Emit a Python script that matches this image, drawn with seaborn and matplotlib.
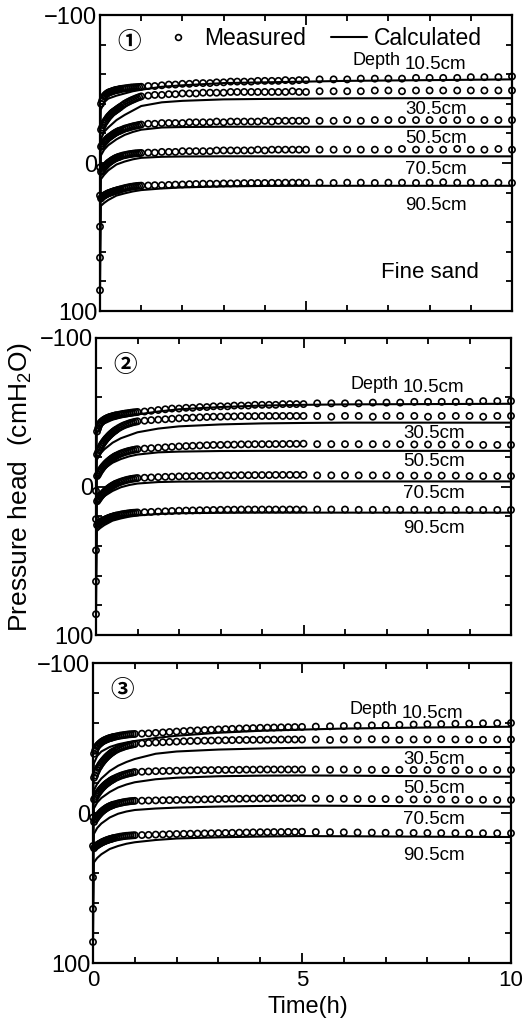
import matplotlib
matplotlib.use("Agg")
import matplotlib.pyplot as plt
from matplotlib.lines import Line2D
import pandas as pd
import seaborn as sns

# ---------------------------------------------------------------- data
# measurement times (h): logged very densely during the first hour, then sparser
T_EARLY = [0.0, 0.025, 0.05, 0.075, 0.10, 0.125, 0.15, 0.175, 0.20, 0.225, 0.25,
           0.275, 0.30, 0.325, 0.35, 0.375, 0.40, 0.425, 0.45, 0.475, 0.50,
           0.55, 0.60, 0.65, 0.70, 0.75, 0.80, 0.85, 0.90, 0.95, 1.00]
T_MID = [1.17, 1.33, 1.50, 1.67, 1.83, 2.00, 2.17, 2.33, 2.50, 2.67, 2.83, 3.00,
         3.17, 3.33, 3.50, 3.67, 3.83, 4.00, 4.17, 4.33, 4.50, 4.67, 4.83, 5.00]
T_LATE = [5.33, 5.67, 6.00, 6.33, 6.67, 7.00, 7.33, 7.67, 8.00, 8.33, 8.67,
          9.00, 9.33, 9.67, 10.00]
TIME_MEAS = T_EARLY + T_MID + T_LATE

# times (h) of the simulated curves
TIME_CALC = [0.0, 0.02, 0.1, 0.2, 0.4, 0.6, 0.8, 1.0, 1.5, 2.0, 3.0, 4.0, 5.0, 6.0, 8.0, 10.0]

DEPTHS = ["10.5cm", "30.5cm", "50.5cm", "70.5cm", "90.5cm"]

# ---- case 1 (fine sand), measured pressure head (cmH2O)
m1_105 = [3, -40, -42, -43.7, -45, -45.8, -46.5, -47, -47.5, -47.8, -48, -48.3, -48.5, -48.8, -49, -49.2, -49.4, -49.5, -49.6, -49.8, -50,
          -50.2, -50.4, -50.6, -50.8, -51, -51.1, -51.2, -51.3, -51.4, -51.5,
          -52, -52, -52.5, -53, -53, -53.5, -53.5, -54, -54, -54, -54.5, -54.5, -55, -55, -55, -55, -55.5, -55.5, -55.5, -55.5, -56, -55.5, -56, -56,
          -56.5, -56.5, -56.5, -57, -57, -57, -57, -57.5, -57.5, -57.5, -57.5, -58, -58, -58, -58.5]
m1_305 = [22, -22.5, -24, -25.5, -27, -28, -29, -30, -31, -31.8, -32.5, -33.3, -34, -34.5, -35, -35.5, -36, -36.5, -37, -37.5, -38,
          -39, -40, -40.8, -41.5, -42.2, -42.8, -43.4, -44, -44.5, -45,
          -45.5, -46, -46, -46.5, -46.5, -47, -47, -47, -47.5, -47.5, -47.5, -47.5, -48, -48, -48, -48, -48, -48, -48, -48, -48, -48.5, -48, -48,
          -48.5, -48.5, -48.5, -48.5, -49, -49, -48.5, -49, -49, -49, -49, -49, -49, -49, -49]
m1_505 = [43, -11, -12, -13, -14, -14.8, -15.5, -16.3, -17, -17.5, -18, -18.5, -19, -19.5, -20, -20.4, -20.8, -21.2, -21.5, -21.8, -22,
          -22.6, -23.2, -23.6, -24, -24.4, -24.8, -25.1, -25.4, -25.7, -26,
          -26.5, -26.5, -27, -27, -27, -27, -27.5, -27.5, -27.5, -27.5, -28, -27.5, -28, -28, -28, -28, -28, -28.5, -28, -28.5, -28.5, -28.5, -28.5, -28.5,
          -28.5, -28.5, -29, -28.5, -29, -29, -29, -29, -29, -29, -29, -29, -29, -29, -29]
m1_705 = [64, 6, 5, 4, 3, 2.2, 1.5, 0.7, 0, -0.5, -1, -1.5, -2, -2.4, -2.8, -3.2, -3.5, -3.8, -4, -4.3, -4.5,
          -5, -5.3, -5.6, -5.9, -6.1, -6.3, -6.5, -6.6, -6.7, -6.8,
          -7, -7, -7.5, -7.5, -7.5, -8, -8, -8, -8, -8, -8.5, -8.5, -8.5, -8.5, -8.5, -8.5, -9, -8.5, -9, -9, -9, -9, -9, -9,
          -9, -9, -9, -9, -9, -9, -9.5, -9, -9, -9, -9.5, -9, -9, -9.5, -9]
m1_905 = [86, 24, 23, 22.5, 22, 21.6, 21.2, 20.8, 20.5, 20.2, 20, 19.7, 19.5, 19.2, 19, 18.8, 18.6, 18.4, 18.2, 18, 17.8,
          17.4, 17, 16.7, 16.4, 16.1, 15.9, 15.7, 15.5, 15.4, 15.3,
          15.2, 15, 15, 14.8, 14.6, 14.5, 14.3, 14.2, 14, 14, 14, 13.8, 13.8, 13.7, 13.6, 13.5, 13.5, 13.5, 13.4, 13.4, 13.3, 13.3, 13.3, 13.3,
          13.3, 13.5, 13.3, 13.3, 13.5, 13.3, 13.3, 13.5, 13.3, 13, 13.3, 13.3, 13.5, 13.3, 13.5]

# ---- case 1, calculated
c1_105 = [3, -36, -41, -43.5, -45.5, -47, -48.5, -49.5, -51.5, -52.5, -54, -54.5, -55, -55.5, -56, -56.5]
c1_305 = [22, -16, -21, -24, -29, -32.5, -35.5, -38.5, -41, -42, -43, -43.3, -43.5, -43.7, -43.8, -43.8]
c1_505 = [43, -5, -9, -12, -16, -19, -21, -22.5, -24, -24.3, -24.5, -24.5, -24.5, -24.5, -24.5, -24.5]
c1_705 = [64, 11, 8, 5, 1, -1, -2.5, -3.5, -4.2, -4.4, -4.5, -4.5, -4.5, -4.5, -4.5, -4.5]
c1_905 = [86, 29, 27, 25, 22, 20.5, 19.2, 18.3, 17.2, 16.5, 15.8, 15.5, 15.4, 15.4, 15.4, 15.4]

# ---- case 2, measured
m2_105 = [3, -37, -39, -41, -42.5, -43.3, -44, -44.5, -45, -45.4, -45.8, -46.1, -46.4, -46.7, -46.9, -47.1, -47.3, -47.5, -47.7, -47.9, -48,
          -48.3, -48.6, -48.9, -49.1, -49.3, -49.5, -49.7, -49.9, -50, -50.2,
          -50.5, -51, -51.5, -52, -52.5, -52.5, -53, -53, -53.5, -53.5, -54, -54, -54, -54.5, -54.5, -54.5, -55, -55, -55, -55, -55.5, -55.5, -55.5, -55.5,
          -56, -56, -56, -56, -56.5, -56.5, -56.5, -57, -57, -57, -57, -57, -57.5, -57.5, -57.5]
m2_305 = [22, -21.5, -23, -24.5, -26, -27.3, -28.5, -29.5, -30.5, -31.4, -32.3, -33, -33.8, -34.5, -35.2, -35.8, -36.4, -37, -37.5, -38, -38.5,
          -39.4, -40.2, -40.9, -41.5, -42, -42.5, -42.9, -43.3, -43.6, -43.9,
          -44.3, -44.7, -45, -45.3, -45.6, -45.9, -46.2, -46.4, -46.6, -46.8, -47, -47, -47.2, -47.2, -47.4, -47.4, -47.4, -47.5, -47.5, -47.5, -47.5, -47.5, -47.5, -47.5,
          -47.5, -47, -47.5, -47.5, -47, -47.5, -47.5, -47.5, -47, -47.5, -47.5, -47.5, -47, -47.5, -47.5]
m2_505 = [43, -7, -8, -9.3, -10.5, -11.5, -12.5, -13.4, -14.2, -15, -15.7, -16.4, -17, -17.6, -18.2, -18.7, -19.2, -19.7, -20.1, -20.5, -20.9,
          -21.6, -22.2, -22.7, -23.2, -23.6, -24, -24.3, -24.6, -24.9, -25.1,
          -25.5, -25.8, -26.1, -26.4, -26.7, -27, -27.2, -27.4, -27.6, -27.8, -28, -28, -28.2, -28.2, -28.4, -28.4, -28.5, -28.5, -28.5, -28.6, -28.6, -28.7, -28.7, -28.8,
          -28.5, -28.5, -28.5, -28.5, -28.5, -28.5, -28.5, -28.3, -28.3, -28.3, -28.3, -28.3, -28, -28, -28]
m2_705 = [64, 10, 9, 8, 7, 6.1, 5.3, 4.5, 3.8, 3.1, 2.5, 1.9, 1.3, 0.8, 0.3, -0.2, -0.6, -1, -1.4, -1.8, -2.1,
          -2.7, -3.2, -3.7, -4.1, -4.5, -4.8, -5.1, -5.3, -5.5, -5.7,
          -5.9, -6.1, -6.3, -6.5, -6.6, -6.8, -6.9, -7, -7.1, -7.2, -7.3, -7.4, -7.5, -7.5, -7.6, -7.6, -7.7, -7.7, -7.7, -7.8, -7.8, -7.8, -7.8, -7.8,
          -7.5, -7.5, -7.5, -7.5, -7.5, -7.5, -7.3, -7.3, -7.3, -7.3, -7.3, -7, -7, -7, -7]
m2_905 = [86, 26, 25, 24.5, 24, 23.6, 23.2, 22.8, 22.5, 22.2, 21.9, 21.6, 21.3, 21, 20.8, 20.5, 20.3, 20.1, 19.9, 19.7, 19.5,
          19.2, 18.9, 18.6, 18.4, 18.2, 18, 17.8, 17.7, 17.6, 17.5,
          17.3, 17.1, 16.9, 16.7, 16.5, 16.3, 16.2, 16.1, 16, 15.9, 15.8, 15.7, 15.6, 15.6, 15.5, 15.5, 15.5, 15.5, 15.5, 15.5, 15.5, 15.5, 15.5, 15.5,
          15.5, 15.5, 15.5, 15.7, 15.7, 15.7, 15.7, 15.7, 15.8, 15.8, 15.8, 15.8, 15.8, 15.8, 15.8]

# ---- case 2, calculated
c2_105 = [3, -36, -40, -42.5, -45, -46.5, -47.5, -48.5, -50.5, -52, -53.5, -54.5, -55, -55.3, -55.5, -55.7]
c2_305 = [22, -18, -22, -25, -29.5, -32.5, -34.5, -36.5, -39, -40.5, -41.8, -42.5, -42.8, -43, -43, -43]
c2_505 = [43, -5, -9, -12, -16, -18.5, -20.3, -21.5, -23, -23.5, -23.9, -24, -24, -24, -24, -24]
c2_705 = [64, 12, 9, 6.5, 3, 0.5, -1, -2, -3, -3.3, -3.4, -3.4, -3.4, -3.4, -3.4, -3.4]
c2_905 = [86, 30, 28, 26, 23, 21.5, 20.3, 19.5, 18.5, 18, 17.7, 17.6, 17.6, 17.6, 17.6, 17.6]

# ---- case 3, measured
m3_105 = [3, -39.5, -41.5, -43.2, -44.5, -45.3, -46, -46.6, -47.2, -47.7, -48.1, -48.5, -48.8, -49.1, -49.4, -49.7, -49.9, -50.1, -50.3, -50.5, -50.7,
          -51, -51.3, -51.6, -51.8, -52, -52.2, -52.4, -52.5, -52.6, -52.7,
          -52.9, -53.1, -53.4, -53.7, -54, -54.3, -54.6, -54.9, -55.1, -55.3, -55.5, -55.7, -55.9, -56.1, -56.3, -56.5, -56.6, -56.8, -56.9, -57, -57.1, -57.2, -57.3, -57.4,
          -57.6, -57.8, -58, -58.2, -58.4, -58.6, -58.8, -59, -59.2, -59.3, -59.5, -59.6, -59.8, -59.9, -60]
m3_305 = [22, -23.5, -25, -27, -28.5, -30, -31, -32.2, -33.2, -34.1, -35, -35.8, -36.6, -37.3, -38, -38.6, -39.2, -39.8, -40.3, -40.8, -41.2,
          -42, -42.7, -43.3, -43.8, -44.3, -44.7, -45.1, -45.4, -45.7, -46,
          -46.4, -46.7, -47, -47.2, -47.4, -47.6, -47.8, -48, -48.1, -48.2, -48.3, -48.4, -48.5, -48.6, -48.7, -48.7, -48.8, -48.8, -48.9, -48.9, -49, -49, -49, -49,
          -49, -48.7, -49, -49, -49.2, -49, -48.8, -49, -49, -49.2, -49, -49, -48.8, -49, -49]
m3_505 = [43, -9, -10, -11.3, -12.5, -13.5, -14.5, -15.4, -16.2, -17, -17.7, -18.4, -19, -19.6, -20.1, -20.6, -21.1, -21.6, -22, -22.4, -22.8,
          -23.5, -24.1, -24.7, -25.2, -25.6, -26, -26.4, -26.7, -27, -27.3,
          -27.5, -27.7, -27.9, -28, -28.1, -28.2, -28.3, -28.4, -28.5, -28.6, -28.6, -28.7, -28.7, -28.8, -28.8, -28.9, -28.9, -29, -29, -29, -29, -29, -29, -29,
          -29, -28.8, -29, -28.8, -28.8, -28.7, -28.8, -28.7, -28.7, -28.7, -28.5, -28.7, -28.7, -28.7, -28.7]
m3_705 = [64, 6, 4.5, 3.5, 2.5, 1.6, 0.8, 0, -0.7, -1.3, -1.9, -2.4, -2.9, -3.4, -3.8, -4.2, -4.5, -4.8, -5.1, -5.4, -5.6,
          -6, -6.4, -6.7, -7, -7.3, -7.5, -7.7, -7.9, -8, -8.1,
          -8.2, -8.3, -8.4, -8.5, -8.6, -8.7, -8.8, -8.9, -9, -9.1, -9.2, -9.3, -9.4, -9.5, -9.5, -9.6, -9.6, -9.7, -9.7, -9.8, -9.8, -9.8, -9.8, -9.8,
          -9.5, -9.5, -9.5, -9.3, -9.3, -9.3, -9, -9, -9, -9, -8.8, -8.8, -8.8, -8.7, -8.7]
m3_905 = [86, 23.5, 22.5, 22, 21.5, 21, 20.6, 20.2, 19.8, 19.4, 19.1, 18.8, 18.5, 18.2, 18, 17.7, 17.5, 17.3, 17.1, 16.9, 16.7,
          16.4, 16.1, 15.8, 15.6, 15.4, 15.2, 15.1, 15, 14.9, 14.8,
          14.7, 14.6, 14.4, 14.3, 14.1, 14, 13.9, 13.8, 13.7, 13.6, 13.5, 13.4, 13.3, 13.2, 13.1, 13, 12.9, 12.8, 12.8, 12.7, 12.7, 12.6, 12.6, 12.5,
          12.7, 12.8, 12.9, 13, 13.1, 13.2, 13.2, 13.3, 13.3, 13.4, 13.4, 13.5, 13.5, 13.5, 13.5]

# ---- case 3, calculated
c3_105 = [3, -33, -38, -41, -44, -45.8, -47, -48, -50, -51.5, -53.5, -54.8, -55.6, -56.3, -57, -57.5]
c3_305 = [22, -15, -19.5, -23, -28, -31.5, -34, -36, -39.5, -41, -42.3, -43, -43.5, -43.7, -43.9, -44]
c3_505 = [43, -3, -7, -10, -14, -17, -19, -20.5, -22.5, -23.5, -24.5, -24.9, -25, -24.9, -24.5, -24.2]
c3_705 = [64, 14, 10, 7, 3, 0.5, -1, -2, -3, -3.6, -4.3, -4.7, -4.9, -4.8, -4.5, -4.2]
c3_905 = [86, 33, 30, 27.5, 24, 22, 20.5, 19.5, 18, 17, 16.2, 15.7, 15.4, 15.5, 15.8, 16]

MEASURED = [[m1_105, m1_305, m1_505, m1_705, m1_905],
            [m2_105, m2_305, m2_505, m2_705, m2_905],
            [m3_105, m3_305, m3_505, m3_705, m3_905]]
CALCULATED = [[c1_105, c1_305, c1_505, c1_705, c1_905],
              [c2_105, c2_305, c2_505, c2_705, c2_905],
              [c3_105, c3_305, c3_505, c3_705, c3_905]]
PANEL_MARKS = ["\u2460", "\u2461", "\u2462"]


def long_table(times, series):
    rows = []
    for depth, values in zip(DEPTHS, series):
        assert len(values) == len(times), (depth, len(values), len(times))
        rows += [(t, v, depth) for t, v in zip(times, values)]
    return pd.DataFrame(rows, columns=["time", "head", "depth"])


# ---------------------------------------------------------------- style
sns.set_theme(style="ticks")
plt.rcParams["font.family"] = ["Liberation Sans", "DejaVu Sans"]
plt.rcParams["mathtext.fontset"] = "custom"
plt.rcParams["mathtext.rm"] = "Liberation Sans"
plt.rcParams["mathtext.it"] = "Liberation Sans:italic"
plt.rcParams["axes.unicode_minus"] = True
for key in ["text.color", "axes.labelcolor", "axes.edgecolor",
            "xtick.color", "ytick.color", "xtick.labelcolor", "ytick.labelcolor"]:
    plt.rcParams[key] = "black"

W, H = 524, 1023
fig = plt.figure(figsize=(W / 100, H / 100), dpi=100)

# axes boxes in pixels: left, top, right, bottom
boxes = [(100, 15, 512, 311), (96, 338, 511, 635), (93, 663, 511, 963)]

for i, (l, t, r, b) in enumerate(boxes):
    ax = fig.add_axes([l / W, 1 - b / H, (r - l) / W, (b - t) / H])

    meas = long_table(TIME_MEAS, MEASURED[i])
    calc = long_table(TIME_CALC, CALCULATED[i])

    sns.lineplot(data=calc, x="time", y="head", units="depth", estimator=None,
                 sort=False, color="black", linewidth=1.5, ax=ax, legend=False,
                 zorder=2)
    sns.scatterplot(data=meas, x="time", y="head", marker="o", s=20,
                    color="black", edgecolor="black", linewidth=1.2, ax=ax,
                    legend=False, zorder=3, clip_on=False)
    # open (hollow) circles so that closely spaced readings merge into a band
    ax.collections[-1].set_facecolor("none")

    ax.set_xlim(0, 10)
    ax.set_ylim(100, -100)
    ax.set_xticks([0, 5, 10])
    ax.set_xticks(range(0, 11), minor=True)
    ax.set_yticks([-100, 0, 100])
    ax.set_yticks(range(-100, 101, 20), minor=True)
    ax.tick_params(which="both", direction="in", top=True, right=True,
                   width=1.3, color="black", labelcolor="black")
    ax.tick_params(which="major", length=7)
    ax.tick_params(which="minor", length=4.5)
    ax.tick_params(axis="y", labelsize=17, pad=2)
    ax.tick_params(axis="x", labelsize=16, pad=5, labelbottom=(i == 2))
    for sp in ax.spines.values():
        sp.set_linewidth(1.6)
        sp.set_color("black")
    ax.set_xlabel("")
    ax.set_ylabel("")

    # panel number
    ax.text(0.7, -82, PANEL_MARKS[i], fontsize=17, fontweight="bold",
            ha="center", va="center", family=["Noto Sans CJK JP", "DejaVu Sans"])

    # depth labels
    ax.text(6.72, -69, "Depth", fontsize=13, ha="center", va="center")
    ax.text(8.13, -66.5, DEPTHS[0], fontsize=13.5, ha="center", va="center")
    for lab, yv in zip(DEPTHS[1:], [-36, -16.5, 4.5, 28.5]):
        ax.text(8.15, yv, lab, fontsize=13.5, ha="center", va="center")

    if i == 0:
        ax.text(8.0, 74, "Fine sand", fontsize=16, ha="center", va="center")
        handles = [Line2D([], [], ls="none", marker="o", ms=4.2, mfc="none",
                          mec="black", mew=1.2),
                   Line2D([], [], color="black", lw=1.5)]
        ax.legend(handles, ["Measured", "Calculated"], loc="center left",
                  bbox_to_anchor=(0.146, 0.922), ncol=2, frameon=False,
                  fontsize=16.5, handlelength=1.6, handletextpad=0.3,
                  columnspacing=1.1, borderpad=0, borderaxespad=0)

fig.text(20 / W, 1 - 487 / H, "Pressure head  (cmH$_2$O)", rotation=90,
         fontsize=19, ha="center", va="center")
fig.text(308 / W, 1 - 1007 / H, "Time(h)", fontsize=17, ha="center",
         va="center")

fig.savefig("out.png", dpi=100)
